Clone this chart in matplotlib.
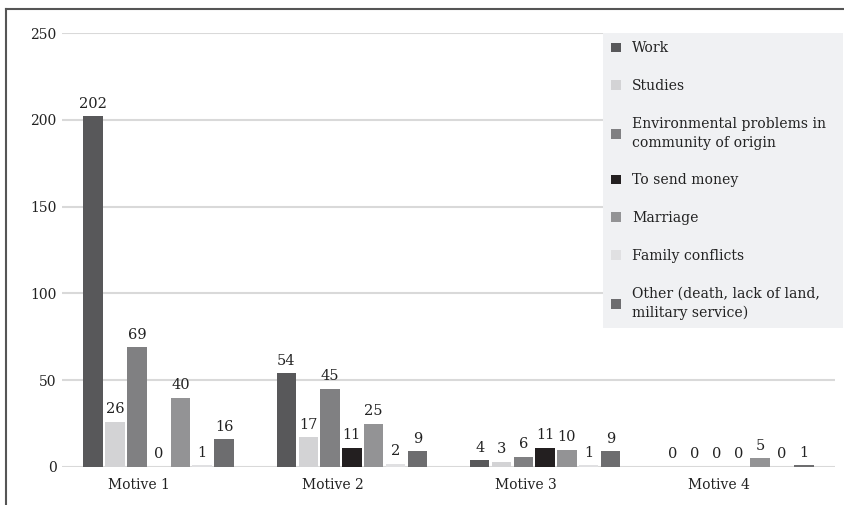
import numpy as np
import matplotlib.pyplot as plt
from matplotlib.lines import Line2D

plt.rcParams['font.family'] = ['DejaVu Serif']

motives = ['Motive 1', 'Motive 2', 'Motive 3', 'Motive 4']
reasons = ['Work', 'Studies', 'Environmental problems in\ncommunity of origin',
           'To send money', 'Marriage', 'Family conflicts',
           'Other (death, lack of land,\nmilitary service)']
counts = [
    [202, 54, 4, 0],   # Work
    [26, 17, 3, 0],    # Studies
    [69, 45, 6, 0],    # Environmental problems
    [0, 11, 11, 0],    # To send money
    [40, 25, 10, 5],   # Marriage
    [1, 2, 1, 0],      # Family conflicts
    [16, 9, 9, 1],     # Other
]
colors = ['#58585a', '#d3d3d5', '#808082', '#231f20', '#939395', '#e0e0e2', '#6d6d6f']

fig = plt.figure(figsize=(8.44, 5.05), dpi=100)
ax = fig.add_axes([62/844, 38/505, (835-62)/844, (467-33)/505])

x = np.arange(len(motives))
pitch = 0.1128
width = 0.101
for i, (vals, c) in enumerate(zip(counts, colors)):
    pos = x + (i - 3) * pitch
    bars = ax.bar(pos, vals, width, color=c, label=reasons[i], zorder=3)
    ax.bar_label(bars, labels=[str(v) for v in vals], padding=4, fontsize=10.5,
                 color='#222222', zorder=4)

ax.set_xlim(-0.5, 3.5)
ax.set_ylim(0, 250)
ax.set_yticks(range(0, 251, 50))
ax.set_xticks(x - 0.1)
ax.set_xticklabels(motives)
ax.tick_params(length=0, labelsize=10, colors='#222222')
ax.tick_params(axis='y', pad=4)
ax.tick_params(axis='x', pad=8)
ax.grid(axis='y', color='#d9d9d9', linewidth=1.5, zorder=0)
for s in ax.spines.values():
    s.set_visible(False)
ax.axhline(0, color='#d9d9d9', linewidth=2, zorder=2)

leg_top = 1 - 33/505
leg = fig.legend(loc='upper left', bbox_to_anchor=(603/844, leg_top - 0.6, 240/844, 0.6),
                 mode='expand', frameon=True, facecolor='#f0f1f3', edgecolor='none',
                 fancybox=False, fontsize=10.1, labelspacing=1.7,
                 handlelength=0.7, handleheight=0.7, handletextpad=0.75,
                 borderpad=0.6, borderaxespad=0)
leg.get_frame().set_alpha(1)
for t in leg.get_texts():
    t.set_color('#222222')
    t.set_linespacing(1.4)

# outer frame on left and top
fig.add_artist(Line2D([6/844, 6/844], [0, 1 - 9/505], transform=fig.transFigure,
                      color='#555555', linewidth=1.5))
fig.add_artist(Line2D([6/844, 1], [1 - 9/505, 1 - 9/505], transform=fig.transFigure,
                      color='#555555', linewidth=1.5))

fig.savefig('out.png', dpi=100)
